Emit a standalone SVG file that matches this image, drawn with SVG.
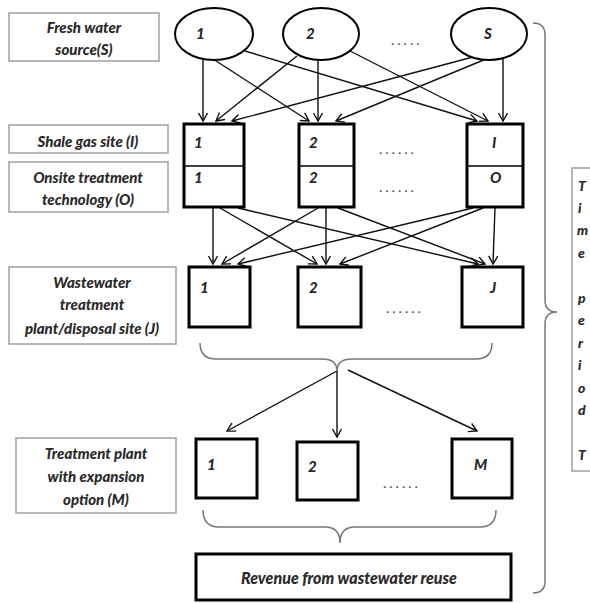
<svg xmlns="http://www.w3.org/2000/svg" width="590" height="603" viewBox="0 0 590 603">
<defs>
<style>
.lbl{fill:#fff;stroke:#a0a0a0;stroke-width:1.5}
.node{fill:#fff;stroke:#000;stroke-width:3}
.ell{fill:#fff;stroke:#000;stroke-width:2}
.t{font-family:Lato,"Liberation Sans",sans-serif;font-weight:900;font-style:italic;font-size:15px;fill:#2a2a2a}
.c{text-anchor:middle}
.dots{font-family:Lato,"Liberation Sans",sans-serif;font-size:14px;fill:#444;letter-spacing:3px}
.conn line{stroke:#111;stroke-width:1.4;marker-end:url(#ah)}
.brace{fill:none;stroke:#777;stroke-width:1.5}
</style>
<marker id="ah" markerWidth="12" markerHeight="12" refX="9" refY="5" orient="auto" markerUnits="userSpaceOnUse">
<path d="M1,0.5 L9,5 L1,9.5" fill="none" stroke="#111" stroke-width="1.4"/>
</marker>
</defs>
<rect width="590" height="603" fill="#fff"/>

<g id="label-S"><rect class="lbl" x="9" y="13" width="150" height="48"/><text class="t c" x="84" y="33">Fresh water</text><text class="t c" x="84" y="55">source(S)</text></g>
<g id="label-I"><rect class="lbl" x="9" y="125" width="159" height="28"/><text class="t c" x="88" y="147">Shale gas site (I)</text></g>
<g id="label-O"><rect class="lbl" x="9" y="162" width="159" height="50"/><text class="t c" x="88" y="183">Onsite treatment</text><text class="t c" x="88" y="205">technology (O)</text></g>
<g id="label-J"><rect class="lbl" x="9" y="267" width="167" height="77"/><text class="t c" x="92" y="288">Wastewater</text><text class="t c" x="92" y="310">treatment</text><text class="t c" x="92" y="334">plant/disposal site (J)</text></g>
<g id="label-M"><rect class="lbl" x="16" y="438" width="160" height="75"/><text class="t c" x="96" y="459">Treatment plant</text><text class="t c" x="96" y="482">with expansion</text><text class="t c" x="96" y="505">option (M)</text></g>

<g class="conn" id="connectors">
<line x1="203" y1="58" x2="203" y2="121"/>
<line x1="213" y1="59" x2="309" y2="121"/>
<line x1="245" y1="51" x2="477" y2="121"/>
<line x1="297" y1="56" x2="216" y2="121"/>
<line x1="318" y1="60" x2="318" y2="121"/>
<line x1="350" y1="51" x2="488" y2="121"/>
<line x1="473" y1="57" x2="232" y2="121"/>
<line x1="486" y1="59" x2="336" y2="121"/>
<line x1="503" y1="58" x2="503" y2="121"/>

<line x1="213" y1="208" x2="213" y2="264"/>
<line x1="220" y1="208" x2="317" y2="264"/>
<line x1="238" y1="208" x2="478" y2="264"/>
<line x1="318" y1="208" x2="222" y2="264"/>
<line x1="326" y1="208" x2="326" y2="264"/>
<line x1="338" y1="208" x2="485" y2="264"/>
<line x1="473" y1="208" x2="238" y2="264"/>
<line x1="483" y1="208" x2="340" y2="264"/>
<line x1="495" y1="208" x2="493" y2="264"/>

<line x1="337" y1="371" x2="227" y2="431"/>
<line x1="337" y1="371" x2="337" y2="437"/>
<line x1="348" y1="370" x2="477" y2="431"/>
</g>

<g id="src-1"><ellipse class="ell" cx="214" cy="34" rx="39" ry="26"/><text class="t" x="196" y="39">1</text></g>
<g id="src-2"><ellipse class="ell" cx="321" cy="34" rx="38" ry="26"/><text class="t" x="306" y="39">2</text></g>
<g id="src-S"><ellipse class="ell" cx="489" cy="34" rx="38" ry="26"/><text class="t" x="484" y="39">S</text></g>
<text class="dots" x="391" y="45">.....</text>

<g id="site-1"><rect class="node" x="184" y="124" width="60" height="83"/><line x1="184" y1="166" x2="244" y2="166" stroke="#000" stroke-width="1.5"/><text class="t" x="194" y="148">1</text><text class="t" x="194" y="183">1</text></g>
<g id="site-2"><rect class="node" x="299" y="124" width="55" height="83"/><line x1="299" y1="166" x2="354" y2="166" stroke="#000" stroke-width="1.5"/><text class="t" x="309" y="148">2</text><text class="t" x="309" y="183">2</text></g>
<g id="site-I"><rect class="node" x="467" y="124" width="56" height="83"/><line x1="467" y1="166" x2="523" y2="166" stroke="#000" stroke-width="1.5"/><text class="t" x="492" y="148">I</text><text class="t" x="490" y="183">O</text></g>
<text class="dots" x="379" y="154">......</text>
<text class="dots" x="379" y="192">......</text>

<g id="wwt-1"><rect class="node" x="189" y="267" width="61" height="60"/><text class="t" x="200" y="293">1</text></g>
<g id="wwt-2"><rect class="node" x="298" y="267" width="63" height="60"/><text class="t" x="309" y="293">2</text></g>
<g id="wwt-J"><rect class="node" x="462" y="267" width="61" height="60"/><text class="t" x="490" y="293">J</text></g>
<text class="dots" x="386" y="313">......</text>

<g id="plant-1"><rect class="node" x="196" y="439" width="61" height="59"/><text class="t" x="207" y="470">1</text></g>
<g id="plant-2"><rect class="node" x="297" y="442" width="61" height="58"/><text class="t" x="308" y="472">2</text></g>
<g id="plant-M"><rect class="node" x="452" y="439" width="60" height="59"/><text class="t" x="474" y="470">M</text></g>
<text class="dots" x="383" y="488">......</text>

<g id="revenue"><rect class="node" x="196" y="554" width="315" height="46"/><text class="t c" x="349" y="584" style="font-size:16px">Revenue from wastewater reuse</text></g>

<g id="braces">
<path class="brace" d="M200,343 Q200,359 216,359 L322,359 Q337,359 337,371 Q337,359 352,359 L476,359 Q492,359 492,343"/>
<path class="brace" d="M203,510 Q203,527 219,527 L325,527 Q340,527 340,543 Q340,527 355,527 L480,527 Q496,527 496,510"/>
<path class="brace" d="M533,23 Q545,23 545,35 L545,300 Q545,312 557,312 Q545,312 545,324 L545,581 Q545,593 533,593"/>
</g>

<g id="time-period">
<rect x="572" y="168" width="30" height="303" fill="#fff" stroke="#a0a0a0" stroke-width="1.5"/>
<g style="font-size:14px">
<text class="t" x="578" y="191" style="font-size:14px">T</text>
<text class="t" x="578" y="213" style="font-size:14px">i</text>
<text class="t" x="577" y="235" style="font-size:14px">m</text>
<text class="t" x="578" y="258" style="font-size:14px">e</text>
<text class="t" x="578" y="303" style="font-size:14px">p</text>
<text class="t" x="578" y="325" style="font-size:14px">e</text>
<text class="t" x="578" y="348" style="font-size:14px">r</text>
<text class="t" x="578" y="370" style="font-size:14px">i</text>
<text class="t" x="578" y="393" style="font-size:14px">o</text>
<text class="t" x="578" y="415" style="font-size:14px">d</text>
<text class="t" x="578" y="460" style="font-size:14px">T</text>
</g>
</g>
</svg>
